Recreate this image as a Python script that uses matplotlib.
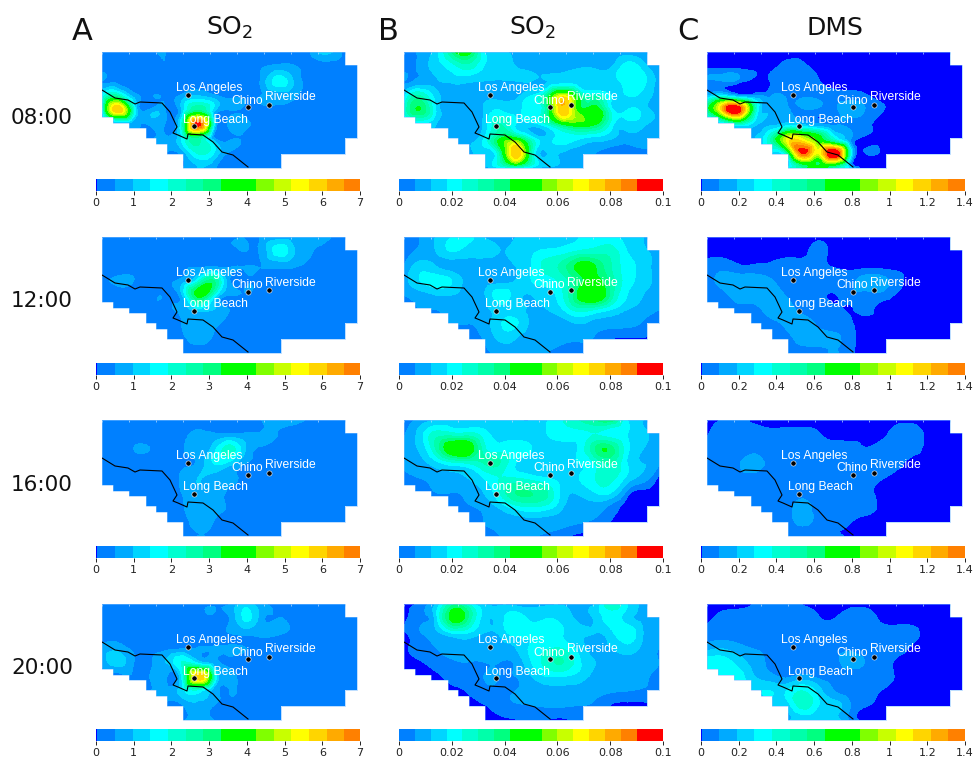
import numpy as np
import matplotlib
matplotlib.use("Agg")
import matplotlib.pyplot as plt
import matplotlib.tri as mtri
from matplotlib.colors import ListedColormap, BoundaryNorm
from matplotlib.patches import Polygon

W, H = 976, 760
HOURS = ["08:00", "12:00", "16:00", "20:00"]
LETTERS = ["A", "B", "C"]
TITLES = ["SO$_2$", "SO$_2$", "DMS"]
TICKS_A = [0, 1, 2, 3, 4, 5, 6, 7]
TICKS_B = [0, 0.02, 0.04, 0.06, 0.08, 0.1]
TICKS_C = [0, 0.2, 0.4, 0.6, 0.8, 1, 1.2, 1.4]
VMAX = [7, 0.1, 1.4]
BAND_STEP = [0.4677, 0.006, 0.0935]
BAND_OFFSET = [0.035, 0.0, 0.003]

BAND_COLORS = ["#0000ff", "#0080ff", "#00aaff", "#00d5ff", "#00ffff", "#00ffd0", "#00ffaa",
               "#00ff80", "#00ff00", "#00ff00", "#80ff00", "#c8ff00", "#ffff00", "#ffd500",
               "#ffaa00", "#ff8000", "#ff0000"]

# concentration fields, expressed in colour-band units (17 columns x 9 rows)
A_08 = [
 [.6,.6,.6,.8,1.0,.6,.6,.6,.6,.6,.6,.7,.7,.9,2.5,1,.6],
 [.7,.7,.7,.7,1.0,.6,.6,.6,.6,.6,.9,1.3,1.1,.7,.7,.6,.6],
 [1,.7,.6,.6,.6,.7,.7,.6,.6,.7,1.2,3.5,2,.7,.6,.6,.6],
 [3,5,1.5,.7,.7,1.2,2,1.2,.7,.8,1,1.5,1.2,.6,.6,.6,.6],
 [2.5,13,4,1.2,.9,2,6,2.5,1,.7,.7,.7,.6,.6,.6,.6,.6],
 [1,1.2,1.3,1.1,.9,4,15.5,3.5,1.4,1.3,.9,.6,.6,.6,.6,.6,.6],
 [.6,.6,.6,.6,1.5,3,5.5,1.5,.8,.7,.6,.6,.6,.6,.6,.6,.6],
 [.6,.6,.6,.6,.8,1.3,4,3,.8,.6,.6,.6,.6,.6,.6,.6,.6],
 [.6,.6,.6,.6,.6,.9,2,1.2,.7,.6,.6,.6,.6,.6,.6,.6,.6]]
B_08 = [
 [.3,1.2,2.5,6,8,3,2,1.8,1.5,1.5,1.5,1.5,1.5,1.5,1.5,1.5,1],
 [.7,1.2,2.5,3.5,4.5,3,2.5,2,1.7,1.5,1.5,1.8,1.7,1.9,3.5,2.5,1.3],
 [1,1.2,1.8,2.2,2.2,2,1.9,2,2,2,2.5,2.5,2.5,2.5,3.5,3.3,1.5],
 [2.5,5,2.5,1.5,1.5,1.5,1.5,1.6,3,6,11,6,4.5,3,3,2.7,1.5],
 [4,7,3,1.5,1.2,2,3,2.5,3.5,6,13,8,8,3.5,3,2.6,1.5],
 [2,3,2,1.5,1.5,2.2,5,3,2.5,4,7,8,7,3.5,2.5,2.2,1.5],
 [1.2,1.2,1.2,1.5,1.5,3,7,8,4,2.5,3.5,3,2.5,2,1.5,1.5,1],
 [1,1,1,1.2,1.3,2.5,5,13,5,2,1.8,1.5,1,.5,.4,.8,.8],
 [1,1,1,1.2,1.3,1.5,3,3,2.5,1.5,1.3,1.2,1.2,1.2,1,.8,.8]]
C_08 = [
 [0,0,0,0,0,0,0,0,0,0,0,0,0,0,0,0,0],
 [0,0,0,0,0,.6,.5,0,0,0,0,0,0,0,0,0,0],
 [.8,1,.7,0,.3,.8,.8,.3,0,0,0,0,0,0,0,0,0],
 [2,3,1.2,.9,.9,.9,.9,.8,.5,.5,.3,0,0,0,0,0,0],
 [6,13,16,5,1.8,1.2,.9,.8,.8,1.5,.9,.3,0,0,0,0,0],
 [1,2,4,2.2,1.8,2.5,2,1.2,.9,.7,.4,0,0,0,0,0,0],
 [1,1,1,2,5,11,11,8,4,1,0,0,0,0,0,0,0],
 [1,1,1,1.5,3,5,15,11,17,4,.3,0,0,0,0,0,0],
 [1,1,1,1.5,2,3,6,9,5,2.5,0,0,0,0,0,0,0]]
A_12 = [
 [.6,.6,.6,.6,.6,.6,.6,.6,.6,.9,1.1,1.4,1.4,1.1,1.2,.6,.6],
 [.6,.6,.6,.6,.6,.6,.6,.6,.6,1,1.2,3.5,2.2,1.1,.7,.6,.6],
 [.6,.6,.6,.6,.6,.8,.8,.8,.8,1,1,1.2,1.1,.9,.6,.6,.6],
 [.9,1.1,1,.6,.8,1.3,3.5,6,1.1,.7,.6,.6,.6,.6,.6,.6,.6],
 [.7,.7,.6,.6,.8,1.8,7.5,4,1.1,.8,.6,.6,.6,.6,.6,.6,.6],
 [.6,.6,.6,.6,.7,1.3,2.5,2,1,.7,.6,.6,.6,.6,.6,.6,.6],
 [.6,.6,.6,.6,.6,1,1.4,1.2,.8,.6,.6,.6,.6,.6,.6,.6,.6],
 [.6,.6,.6,.6,.6,.8,1.3,.9,.7,.6,.6,.6,.6,.6,.6,.6,.6],
 [.6,.6,.6,.6,.6,.6,.9,.6,.6,.6,.6,.6,.6,.6,.6,.6,.6]]
B_12 = [
 [.2,1,2,3,3.5,2,1.8,2,2.5,3,3,3,3.5,3.5,2.5,2,1],
 [.8,1.2,2,3,2.5,2.2,2,2.2,2.8,3.2,3.5,4.2,4.5,4.5,3,2.2,1.5],
 [1,2.5,2,1.5,1.6,1.6,1.7,2,3,4.5,5.5,7.5,7,5,3.5,2.5,1.5],
 [1.5,3,3.5,3,1.5,1.3,1.6,2,3,3.5,4.5,6.5,7.5,5.5,3.5,2.5,1.5],
 [1,1.5,2,2,1.5,1.8,3.5,2.5,2,2.5,4,7.5,8.8,5.5,3,2,1.5],
 [.6,1,1,1.2,1.3,1.7,2.5,2.5,1.8,2,3,4.5,4,3,2,1.5,1],
 [.6,.8,.9,1,1,1.5,2.8,3.2,1.7,1.5,1.5,2,1.5,1.3,1.2,.9,.4],
 [.4,.5,.5,.5,.5,1.1,2.2,2,1.4,1.2,1.1,1.1,.9,.3,.2,.2,.2],
 [.3,.3,.3,.3,.3,.7,1.2,1.3,1.1,1,.4,.3,.3,.3,.3,.3,.3]]
C_12 = [
 [0,0,0,0,0,0,0,0,0,0,0,0,0,0,0,0,0],
 [0,0,0,0,0,0,0,.5,0,0,0,0,0,0,0,0,0],
 [.6,.7,.35,.35,.4,.6,.6,.4,.2,0,0,0,0,0,0,0,0],
 [.6,1.3,1.5,1.5,1.1,.6,.6,.5,.6,.8,1.4,1.3,.5,0,0,0,0],
 [.5,.7,1.6,1.6,1.6,.9,.6,.5,.2,.7,.7,.7,.1,0,0,0,0],
 [.5,.6,.6,.7,1.4,1.4,.7,.6,.5,.2,.4,0,0,0,0,0,0],
 [.5,.5,.6,.6,.7,1.2,1.4,.9,.7,.35,0,0,0,0,0,0,0],
 [.5,.5,.5,.5,.6,.7,1.4,1.3,1.2,.5,0,0,0,0,0,0,0],
 [.5,.5,.5,.5,.5,.6,.7,.7,1.1,.4,0,0,0,0,0,0,0]]
A_16 = [
 [.6,.6,.6,.6,.6,.6,.8,.8,.7,.7,1,1.2,1.2,.9,.6,.6,.6],
 [.6,.6,.6,.6,.6,.7,1.2,1.2,1.2,1.2,1.1,1,.8,.6,.6,.6,.6],
 [.6,.6,1,1,.6,.9,1.3,2.5,4.5,2,.9,.6,.6,.6,.6,.6,.6],
 [.9,.6,.6,.6,.6,.8,1.2,3,2.5,1,.6,.6,.6,.6,.6,.6,.6],
 [.7,.6,.6,.6,.9,1.1,2,1.5,1.1,.8,.6,.6,.6,.6,.6,.6,.6],
 [.6,.6,.6,.6,.6,1,1.7,1.4,.9,.6,.6,.6,.6,.6,.6,.6,.6],
 [.6,.6,.6,.6,.6,.9,1.3,1.3,.9,.6,.6,.6,.6,.6,.6,.6,.6],
 [.6,.6,.6,.6,.6,.6,1.4,1,.6,.6,.6,.6,.6,.6,.6,.6,.6],
 [.6,.6,.6,.6,.6,.6,1,.8,.6,.6,.6,.6,.6,.6,.6,.6,.6]]
B_16 = [
 [.2,1.4,2,2.2,2,2,2,2,2,3,4,5,6,6.5,3,2,.8],
 [.9,2.5,4.5,4.5,4.5,3.5,2.5,2.5,2.5,3,3.5,3.5,4,3.5,3,2.2,1.4],
 [1.2,2.2,5,8.5,8.5,4.5,3.5,3.5,3,2.5,2.5,3.2,6,6.5,3.3,2,1.2],
 [1,1.6,2.5,3.5,4,5,5,3,2.5,2.5,2.5,3,4,5,3,2,1],
 [.8,1,1.3,1.6,2,3,4,4,3.5,3,2.7,3,4,4.3,2.7,1.5,0],
 [.2,.6,1,1,1.2,2,4,6,6,5,2.5,2.2,3,3,.7,0,0],
 [.1,.2,.5,.7,.9,1.2,2.2,3.5,4,3.5,2,1.5,1.5,.7,0,0,0],
 [0,0,.1,.3,.4,1,1.3,1.5,1.6,1.5,1.3,1.1,.8,.2,0,0,0],
 [0,0,0,0,.1,.2,1,1,1,.9,.5,0,0,0,0,0,0]]
C_16 = [
 [0,.3,.6,0,0,0,0,0,0,0,0,0,0,0,0,0,0],
 [.2,.6,.6,.5,.4,.4,.4,.3,0,0,0,.1,.6,.6,0,0,0],
 [.6,.6,.6,.6,.6,.6,.6,.6,.6,.6,.3,.6,.6,.5,0,0,0],
 [.6,.6,.9,1.5,.6,.6,.6,.6,.6,.6,.6,.6,.4,0,0,0,0],
 [.6,.6,.6,.6,.6,.6,.6,.6,.6,.6,.5,.3,0,0,0,0,0],
 [.6,.6,.6,.6,.6,.6,.6,.6,.6,.6,.5,0,0,0,0,0,0],
 [.6,.6,.6,.6,.6,.6,1.3,.6,.6,.6,.5,.1,0,0,0,0,0],
 [.6,.6,.6,.6,.6,.6,1.3,.6,.5,.3,0,0,0,0,0,0,0],
 [.6,.6,.6,.6,.6,.6,.6,.6,.4,.1,0,0,0,0,0,0,0]]
A_20 = [
 [.6,.6,.6,.6,.6,.6,.6,.8,.9,2.5,1.2,.7,.6,.6,1,.6,.6],
 [.6,.6,.6,.9,.6,.6,.6,.8,1,3.2,1.4,1,.7,.6,.6,.6,.6],
 [.7,.6,.6,.6,.6,.6,.6,.6,1,1.3,1.2,1.1,.8,.6,.6,.6,.6],
 [1.2,1.5,.7,.6,.6,.7,1,1.1,1.1,1,.7,.6,.6,.6,.6,.6,.6],
 [1.2,2.5,1,.8,2,4,2.5,1.3,.9,.6,.6,.6,.6,.6,.6,.6,.6],
 [.6,.7,.9,1,1.2,3,13,5,1.2,.7,.6,.6,.6,.6,.6,.6,.6],
 [.6,.6,.6,.9,1.5,2.5,3.5,1.5,1,.7,.6,.6,.6,.6,.6,.6,.6],
 [.6,.6,.6,.6,.6,.9,1.7,1,.7,.6,.6,.6,.6,.6,.6,.6,.6],
 [.6,.6,.6,.6,.6,.8,1.6,1,.7,.6,.6,.6,.6,.6,.6,.6,.6]]
B_20 = [
 [0,.4,2,5.5,4,2,1.8,1.5,1.5,1.8,1.9,1.8,2,5,3,1.7,1.5],
 [0,.7,2.5,7.5,6,2.5,2.5,3.5,2.8,3,2.5,1.8,2.2,3.5,2.5,1.7,1.2],
 [.1,.9,1.7,3,3,2,2.2,3.5,3.3,3.7,3,2.2,2,2.7,3.8,2,1.1],
 [.1,.6,1,1.2,1.3,1.2,1.5,2,3.2,3.8,3.8,2.5,1.7,2,2.6,1.7,1],
 [.1,.2,.6,.9,1,1,1,1.2,3,4.5,5,3.2,2,1.7,1.6,1.3,1],
 [0,0,.1,.5,.8,1,1,1,2,3,3,2.5,1.7,1.6,1.4,1.1,.9],
 [0,0,0,.1,.3,.8,.9,1,1.4,1.6,1.7,1.6,1.3,1.1,1,.9,.8],
 [0,0,0,0,.1,.2,.6,.9,1,1.1,1.1,1,.8,.2,.1,.1,.6],
 [0,0,0,0,0,.05,.1,.2,.3,.2,.1,.6,.6,.6,.6,.6,.6]]
C_20 = [
 [0,0,0,.3,.7,.5,.2,0,0,0,0,0,0,0,0,0,0],
 [0,.5,.6,.6,.6,.6,.6,.3,.25,.6,.6,.1,0,0,0,0,0],
 [.6,.6,.6,.6,.6,.6,.6,.6,.6,.6,.6,.6,.6,.4,0,0,0],
 [1.5,1.8,1.3,.9,.7,.6,.6,.6,.6,.8,.3,.6,.6,.1,0,0,0],
 [3.5,3.5,2.5,1.5,.8,.6,.6,.6,.6,1.5,.9,.6,.1,0,0,0,0],
 [2.5,3.5,3.5,2,1.3,.8,1.3,.7,.6,.6,.6,.6,.1,0,0,0,0],
 [2.5,2.8,2.8,2.8,3,3,4,2.5,1,.6,.6,.2,0,0,0,0,0],
 [2,2,2,2,2.5,2.5,4.5,3,2.5,1,.3,0,0,0,0,0,0],
 [1.5,1.5,1.5,1.5,1.5,1.7,2.8,2.5,2.5,.8,.1,0,0,0,0,0,0]]

FIELDS = [[A_08, B_08, C_08], [A_12, B_12, C_12], [A_16, B_16, C_16], [A_20, B_20, C_20]]
TICKS = [TICKS_A, TICKS_B, TICKS_C]

# map geometry, in map units
MAP_W, MAP_H = 255, 116
DOMAIN = [(0,0),(243,0),(243,13),(255,13),(255,86),(243,86),(243,102),(179,102),(179,116),
          (81,116),(81,102),(65,102),(65,92),(54,92),(54,86),(44,86),(44,76),(27,76),(27,71),
          (11,71),(11,65),(0,65)]
COAST_X = [0,13,26,33,38,60,68,75,71,76,85,86,101,111,120,131,146]
COAST_Y = [38,46,48,52,50,51,60,75,81,83,87,82,83,90,100,103,115]
CITY_NAMES = ["Los Angeles", "Long Beach", "Chino", "Riverside"]
CITY_X = [86, 91.5, 145.5, 167]
CITY_Y = [43, 74, 55, 53]
LABEL_X = [107.5, 113.5, 145, 188]
LABEL_Y = [36, 67.5, 48.5, 45.5]

COL_X = [102, 404, 707]
ROW_Y = [52, 237, 420, 604]
BAR_X = [96, 399, 701]
BAR_Y = [179, 363, 546, 729]
BAR_W, BAR_H = 264, 12
GRAY = "#222222"

plt.rcParams["font.family"] = "DejaVu Sans"
fig = plt.figure(figsize=(W / 100, H / 100), dpi=100)


def px_axes(x, y, w, h):
    return fig.add_axes([x / W, 1 - (y + h) / H, w / W, h / H])


nrows, ncols = np.array(A_08).shape
gx, gy = np.meshgrid(np.linspace(0, MAP_W, ncols), np.linspace(0, MAP_H, nrows))
tri = mtri.Triangulation(gx.ravel(), gy.ravel())
refiner = mtri.UniformTriRefiner(tri)

for r in range(4):
    for c in range(3):
        step = BAND_STEP[c]
        ax = px_axes(COL_X[c], ROW_Y[r], MAP_W, MAP_H)
        z = np.array(FIELDS[r][c], dtype=float).ravel() * step
        rt, rz = refiner.refine_field(z, subdiv=3)
        rz = np.clip(rz, z.min(), z.max())
        levels = [0.25 * step] + [k * step for k in range(1, 16)]
        cs = ax.tricontourf(rt, rz, levels=levels, colors=BAND_COLORS, extend="both")
        clip = Polygon(DOMAIN, closed=True, transform=ax.transData, facecolor="none", edgecolor="none")
        ax.add_patch(clip)
        cs.set_clip_path(clip)
        ax.add_patch(Polygon(DOMAIN, closed=True, facecolor="none", edgecolor="#7fbfff", lw=0.6,
                             alpha=0.6, zorder=2, clip_on=False))
        ax.plot(COAST_X, COAST_Y, color="black", lw=0.8, zorder=3, solid_joinstyle="round")
        ax.scatter(CITY_X, CITY_Y, s=14, c="black", edgecolors="white", linewidths=0.4, zorder=4)
        for name, lx, ly in zip(CITY_NAMES, LABEL_X, LABEL_Y):
            ax.text(lx, ly, name, color="white", fontsize=8.7, family="Liberation Sans",
                    ha="center", va="center", zorder=5)
        ax.set_xlim(0, MAP_W)
        ax.set_ylim(MAP_H, 0)
        for s in ax.spines.values():
            s.set_visible(False)
        ax.xaxis.tick_top()
        ax.set_xticks(np.arange(0, 244, 27))
        ax.set_xticklabels([])
        ax.tick_params(axis="x", direction="in", length=1.2, width=0.5, color="#bfe0ff")
        ax.set_yticks([])

        # colour bar
        bar = px_axes(BAR_X[c], BAR_Y[r], BAR_W, BAR_H)
        vmax = VMAX[c]
        offset = BAND_OFFSET[c]
        edges = [0.0]
        if offset > 0:
            edges.append(offset)
            cols = [BAND_COLORS[0]]
        else:
            cols = []
        k = 1
        while True:
            e = offset + k * step
            cols.append(BAND_COLORS[min(k, 16)])
            if e >= vmax or k >= 16:
                edges.append(vmax)
                break
            edges.append(e)
            k += 1
        norm = BoundaryNorm(np.arange(len(cols) + 1) - 0.5, len(cols))
        bar.pcolormesh(edges, [0, 1], np.arange(len(cols))[None, :], cmap=ListedColormap(cols),
                       norm=norm, shading="flat", rasterized=True)
        bar.set_xlim(0, vmax)
        bar.set_ylim(0, 1)
        bar.set_yticks([])
        bar.set_xticks(TICKS[c])
        bar.set_xticklabels([str(t) for t in TICKS[c]], fontsize=8, color=GRAY)
        bar.tick_params(axis="x", length=3, width=0.7, color=GRAY, pad=2)
        for s in bar.spines.values():
            s.set_visible(False)


def ftext(x, y, s, **kw):
    fig.text(x / W, 1 - y / H, s, ha="center", va="center", color="#111111", **kw)


for x, s in zip([82, 388, 688], LETTERS):
    ftext(x, 31, s, fontsize=22)
for x, s in zip([230, 533, 835], TITLES):
    ftext(x, 28, s, fontsize=18)
for y, s in zip([118, 301, 485, 668], HOURS):
    ftext(42, y, s, fontsize=15.5)

fig.savefig("out.png", dpi=100, facecolor="white")
